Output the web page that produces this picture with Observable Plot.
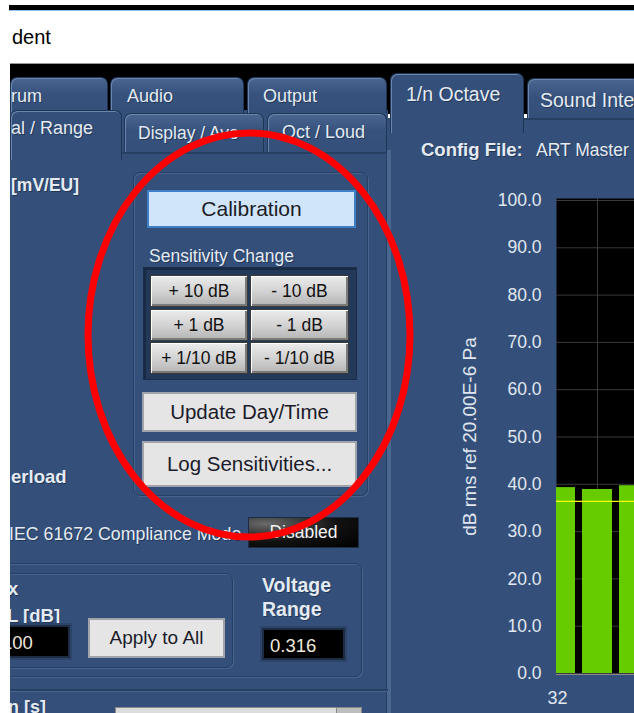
<!DOCTYPE html>
<html>
<head>
<meta charset="utf-8">
<script src="https://cdn.jsdelivr.net/npm/d3@7"></script>
<script src="https://cdn.jsdelivr.net/npm/@observablehq/plot@0.6"></script>
<style>
  html, body { margin: 0; padding: 0; background: #fff; }
  #root { position: relative; width: 634px; height: 713px; overflow: hidden; background: #fff;
          font-family: "Liberation Sans", Arial, sans-serif; }
  .abs { position: absolute; box-sizing: border-box; }
  .lbl { position: absolute; color: #e4ebf3; white-space: nowrap; text-shadow: 1px 1px 0 rgba(10,20,40,0.45); }
  .b { font-weight: bold; }
  .tab { position: absolute; box-sizing: border-box; background: linear-gradient(#4a6690, #37537d 45%, #34507a);
         border: 1px solid #1f3556; border-bottom: none; border-radius: 7px 7px 0 0;
         box-shadow: inset 1px 1px 0 #6a86ae; color: #e4ebf3; font-size: 18px; white-space: nowrap;
         text-shadow: 1px 1px 0 rgba(10,20,40,0.45); }
  .tab.active { background: #34507a; }
  .box { position: absolute; box-sizing: border-box; border: 1px solid #263f62; border-radius: 7px;
         box-shadow: inset 1px 1px 0 #48648e, 1px 1px 0 #48648e; }
  .gbtn { position: absolute; box-sizing: border-box; background: linear-gradient(#ececec, #d0d0d0 55%, #b4b4b4);
          border: 1px solid #3a3a3a; box-shadow: inset 1px 1px 0 #fff, inset -2px -2px 0 #7a7a7a;
          color: #111; font-size: 17.5px; text-align: center; line-height: 30px; white-space: nowrap; }
  .pbtn { position: absolute; box-sizing: border-box; background: #e5e5e5; border: 2px solid #a0a4aa;
          color: #1b1b2a; font-size: 20.5px; text-align: center; white-space: nowrap; }
  .field { position: absolute; box-sizing: border-box; background: #000; border: 2px solid #1c2c44;
           box-shadow: 0 0 0 2px #2c4468; color: #efe9dc; font-size: 18.5px; }
</style>
</head>
<body>
<div id="root">
  <!-- window chrome -->
  <div class="abs" style="left:9px;top:5px;width:625px;height:5px;background:#000"></div>
  <div class="abs" style="left:9px;top:10px;width:625px;height:1px;background:#8fc2ec"></div>
  <div class="abs" style="left:12px;top:26px;font-size:20px;color:#000">dent</div>
  <div class="abs" style="left:10px;top:63px;width:624px;height:1px;background:#999"></div>
  <div class="abs" style="left:10px;top:64px;width:624px;height:50px;background:#000"></div>

  <!-- panels -->
  <div class="abs" style="left:10px;top:110px;width:378px;height:603px;background:#34507a"></div>
  <div class="abs" style="left:388px;top:118px;width:246px;height:595px;background:#34507a"></div>
  <div class="abs" style="left:386px;top:150px;width:5px;height:563px;background:#4a6790;border-left:1px solid #263f62"></div>

  <!-- top tab row -->
  <div class="tab" style="left:10px;top:77px;width:98px;height:36px;"><span style="position:absolute;left:0px;top:8px">rum</span></div>
  <div class="tab" style="left:110px;top:77px;width:134px;height:36px;"><span style="position:absolute;left:16px;top:8px">Audio</span></div>
  <div class="tab" style="left:247px;top:77px;width:140px;height:36px;"><span style="position:absolute;left:15px;top:8px">Output</span></div>
  <div class="tab active" style="left:390px;top:73px;width:134px;height:60px;font-size:19.5px"><span style="position:absolute;left:15px;top:9px">1/n Octave</span></div>
  <div class="tab" style="left:527px;top:78px;width:112px;height:42px;font-size:19.5px"><span style="position:absolute;left:12px;top:10px">Sound Inte</span></div>
  <div class="abs" style="left:524px;top:118px;width:110px;height:2px;background:#263f62"></div>

  <!-- second tab row -->
  <div class="tab active" style="left:10px;top:110px;width:112px;height:50px;"><span style="position:absolute;left:0px;top:7px">al / Range</span></div>
  <div class="tab" style="left:124px;top:113px;width:140px;height:39px;font-size:17.5px"><span style="position:absolute;left:13px;top:9px">Display / Ave</span></div>
  <div class="tab" style="left:267px;top:113px;width:120px;height:39px;"><span style="position:absolute;left:14px;top:8px">Oct / Loud</span></div>
  <div class="abs" style="left:122px;top:152px;width:265px;height:2px;background:#263f62"></div>

  <!-- left panel content -->
  <div class="lbl b" style="left:11px;top:175px;font-size:17.5px">[mV/EU]</div>

  <div class="box" style="left:133px;top:172px;width:235px;height:324px"></div>
  <div class="abs" style="left:147px;top:190px;width:209px;height:38px;background:#d0e5f9;border:2px solid #3f7fc6;color:#1c1c24;font-size:21px;text-align:center;line-height:34px">Calibration</div>
  <div class="lbl" style="left:149px;top:246px;font-size:17.5px">Sensitivity Change</div>
  <div class="abs" style="left:143px;top:267px;width:214px;height:113px;background:#22395a;border:1px solid #1a2d49;box-shadow:inset 2px 2px 0 #182a44"></div>
  <div class="gbtn" style="left:150px;top:275px;width:98px;height:32px">+ 10 dB</div>
  <div class="gbtn" style="left:250px;top:275px;width:99px;height:32px">- 10 dB</div>
  <div class="gbtn" style="left:150px;top:309px;width:98px;height:32px">+ 1 dB</div>
  <div class="gbtn" style="left:250px;top:309px;width:99px;height:32px">- 1 dB</div>
  <div class="gbtn" style="left:150px;top:342px;width:98px;height:32px">+ 1/10 dB</div>
  <div class="gbtn" style="left:250px;top:342px;width:99px;height:32px">- 1/10 dB</div>
  <div class="pbtn" style="left:142px;top:392px;width:215px;height:40px;line-height:36px">Update Day/Time</div>
  <div class="pbtn" style="left:142px;top:441px;width:215px;height:46px;line-height:42px">Log Sensitivities...</div>

  <div class="lbl b" style="left:11px;top:466px;font-size:18.5px">erload</div>
  <div class="lbl" style="left:9px;top:524px;font-size:17.8px">IEC 61672 Compliance Mode</div>
  <div class="abs" style="left:248px;top:517px;width:111px;height:31px;background:radial-gradient(ellipse at 15% 20%, #6a6a6a, #111 55%, #000);border:1px solid #1c2c44;color:#f4f4f4;font-size:17.5px;text-align:center;line-height:29px">Disabled</div>

  <div class="box" style="left:4px;top:563px;width:358px;height:114px"></div>
  <div class="box" style="left:4px;top:573px;width:229px;height:95px"></div>
  <div class="lbl b" style="left:8px;top:578px;font-size:18.5px">x</div>
  <div class="lbl b" style="left:7px;top:605px;font-size:18.5px">L [dB]</div>
  <div class="field" style="left:0px;top:625px;width:70px;height:33px"><span style="position:absolute;left:0px;top:5px">100</span></div>
  <div class="pbtn" style="left:88px;top:618px;width:137px;height:40px;line-height:36px;font-size:19px">Apply to All</div>
  <div class="lbl b" style="left:262px;top:574px;font-size:19.5px">Voltage</div>
  <div class="lbl b" style="left:262px;top:598px;font-size:19.5px">Range</div>
  <div class="field" style="left:262px;top:628px;width:83px;height:32px"><span style="position:absolute;left:6px;top:5px">0.316</span></div>

  <div class="abs" style="left:10px;top:689px;width:378px;height:2px;background:#263f62;box-shadow:0 1px 0 #48648e"></div>
  <div class="lbl b" style="left:8px;top:697px;font-size:18px">n [s]</div>
  <div class="abs" style="left:115px;top:707px;width:247px;height:10px;background:#dcdcdc;border:1px solid #888"></div>
  <div class="abs" style="left:336px;top:707px;width:26px;height:10px;background:#bdbdbd;border:1px solid #888"></div>

  <!-- right panel content -->
  <div class="lbl b" style="left:421px;top:139px;font-size:18.5px">Config File:</div>
  <div class="lbl" style="left:536px;top:140px;font-size:17.5px">ART Master</div>

  <div id="chart" class="abs" style="left:380px;top:150px;width:254px;height:563px"></div>

  <!-- left clipping margin -->
  <div class="abs" style="left:0;top:55px;width:10px;height:658px;background:#fff"></div>

  <!-- red annotation ellipse -->
  <svg class="abs" style="left:0;top:0" width="634" height="713">
    <ellipse cx="249" cy="335" rx="161" ry="202" fill="none" stroke="#ff0000" stroke-width="7"></ellipse>
  </svg>
</div>

<script>
// 1/3-octave bands visible at the left edge of the display
const bands = ["32", "40", "50"];
const levels = [39.3, 38.9, 39.7];          // dB rms
const overallLevel = [36.4];                 // yellow reference line
const yTicks = [0, 10, 20, 30, 40, 50, 60, 70, 80, 90, 100];
const xTickLabels = ["32"];
const gridBands = ["40"];
const yLabel = "dB rms ref 20.00E-6 Pa";

const data = bands.map((b, i) => ({band: b, level: levels[i]}));

const chart = Plot.plot({
  width: 254,
  height: 563,
  marginLeft: 176,
  marginRight: 0,
  marginTop: 48,
  marginBottom: 39,
  style: {background: "transparent", color: "#e0e7f0", fontFamily: "'Liberation Sans', Arial, sans-serif", fontSize: "17px", overflow: "visible"},
  x: {type: "band", domain: bands, range: [161.5, 272.5], paddingInner: 0.19, paddingOuter: 0.095},
  y: {domain: [0, 100], range: [523, 50]},
  marks: [
    Plot.frame({fill: "#000", stroke: "none"}),
    Plot.gridY(yTicks, {stroke: "#3a3a3a", strokeOpacity: 1}),
    Plot.gridX(gridBands, {stroke: "#3a3a3a", strokeOpacity: 1}),
    Plot.barY(data, {x: "band", y: "level", fill: "#66cc00", clip: true}),
    Plot.ruleY(overallLevel, {stroke: "#ffff00", strokeWidth: 1.3}),
    Plot.ruleY([0], {stroke: "#8a8a8a", dy: 1}),
    Plot.axisY(yTicks, {tickSize: 0, tickPadding: 15, fontSize: 17.5, tickFormat: d => d.toFixed(1), label: null}),
    Plot.axisY({tickSize: 0, ticks: [], fontSize: 19, label: yLabel, labelAnchor: "center", labelArrow: "none", labelOffset: 94}),
    Plot.axisX(xTickLabels, {tickSize: 0, tickPadding: 17, dx: -3, fontSize: 18, label: null})
  ]
});
chart.style.maxWidth = "none";
document.getElementById("chart").appendChild(chart);
</script>
</body>
</html>
